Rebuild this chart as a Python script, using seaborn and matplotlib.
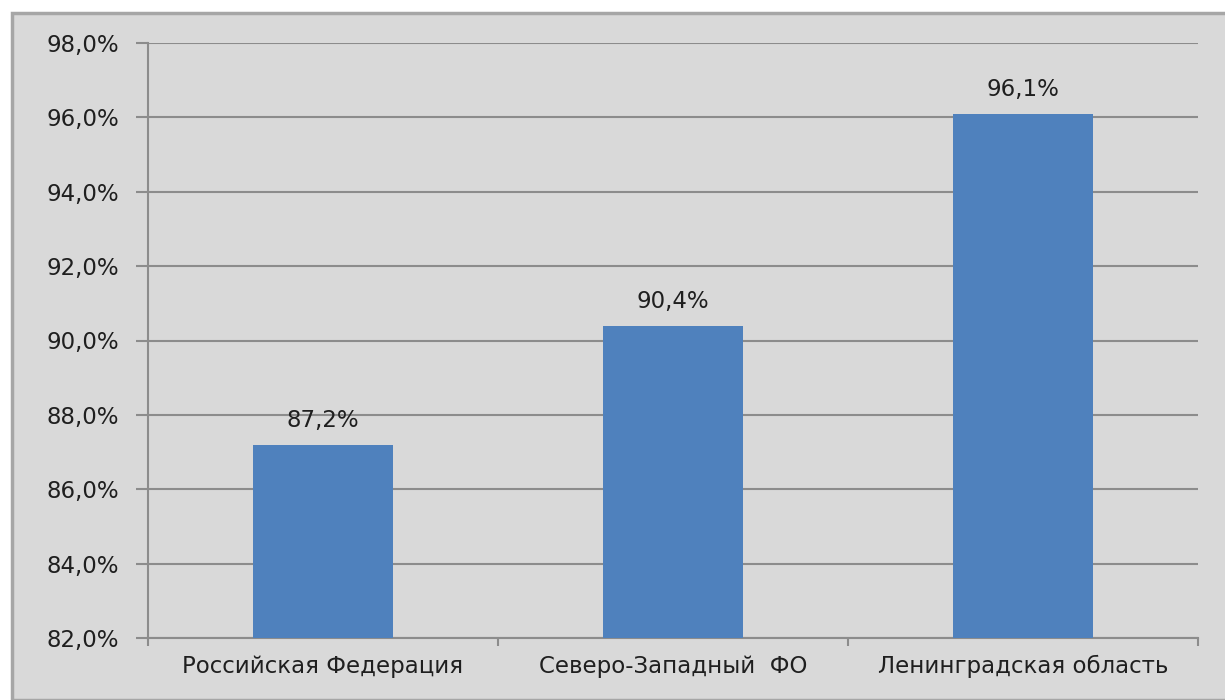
import matplotlib
matplotlib.use('Agg')
import matplotlib.pyplot as plt
import seaborn as sns
import pandas as pd
from matplotlib.patches import Rectangle
from matplotlib.ticker import FuncFormatter, FixedLocator

regions = ['Российская Федерация', 'Северо-Западный  ФО', 'Ленинградская область']
shares = [87.2, 90.4, 96.1]
bar_labels = ['87,2%', '90,4%', '96,1%']

df = pd.DataFrame({'region': regions, 'share': shares})

sns.set_theme(style='white')
plt.rcParams['font.family'] = ['DejaVu Sans']

fig = plt.figure(figsize=(12.25, 7), dpi=100)
fig.patch.set_facecolor('white')
# outer chart-area frame
fig.patches.append(Rectangle((12 / 1225, 0), 1.0, 1 - 13 / 700, transform=fig.transFigure,
                             facecolor='#d9d9d9', edgecolor='#a6a6a6', linewidth=2.5, zorder=-10))

ax = fig.add_axes([148 / 1225, 1 - 638 / 700, 1050 / 1225, 595 / 700])
ax.set_facecolor('#d9d9d9')

sns.barplot(data=df, x='region', y='share', color='#4f81bd', saturation=1, width=0.4,
            linewidth=0, ax=ax, zorder=3)

ax.set_ylim(82, 98)
ax.set_xlim(-0.5, 2.5)
ax.yaxis.set_major_locator(FixedLocator([82, 84, 86, 88, 90, 92, 94, 96, 98]))
ax.yaxis.set_major_formatter(FuncFormatter(lambda v, p: f'{v:.1f}%'.replace('.', ',')))
ax.grid(axis='y', color='#8c8c8c', linewidth=1.5, zorder=0)
ax.set_axisbelow(True)

for s in ['top', 'right']:
    ax.spines[s].set_visible(False)
for s in ['left', 'bottom']:
    ax.spines[s].set_color('#8c8c8c')
    ax.spines[s].set_linewidth(1.5)

ax.tick_params(axis='y', left=True, length=9, color='#8c8c8c', width=1.5, labelsize=16.5,
               pad=12, labelcolor='#1f1f1f')
ax.tick_params(axis='x', which='major', bottom=False, length=0, labelsize=16.5, pad=12,
               labelcolor='#1f1f1f')
# category boundary ticks
ax.set_xticks([-0.5, 0.5, 1.5, 2.5], minor=True)
ax.tick_params(axis='x', which='minor', bottom=True, length=6, color='#8c8c8c', width=1.5)
ax.set_xlabel('')
ax.set_ylabel('')

for i, (v, t) in enumerate(zip(shares, bar_labels)):
    ax.text(i, v + 0.35, t, ha='center', va='bottom', fontsize=16.5, color='#1f1f1f')

fig.savefig('out.png', dpi=100)
